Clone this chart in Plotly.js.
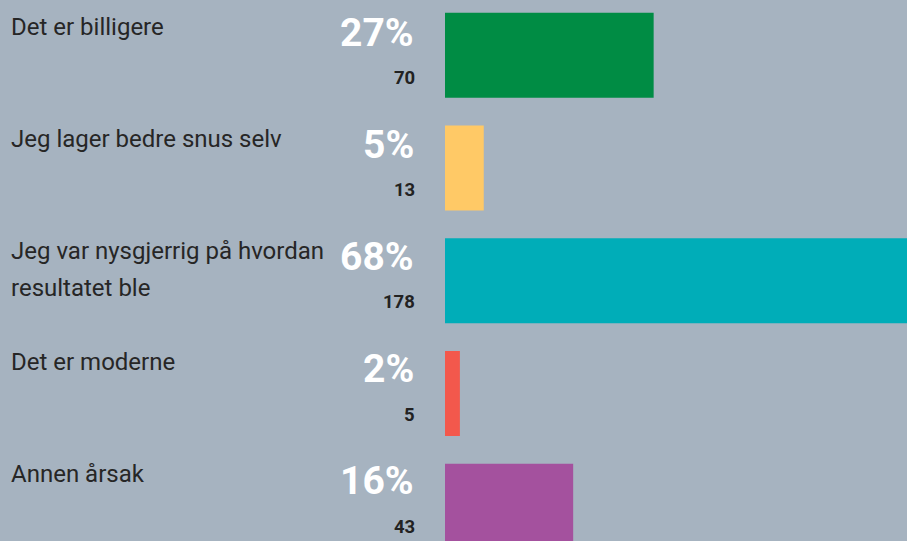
<!DOCTYPE html>
<html>
<head>
<meta charset="utf-8">
<script src="https://cdn.plot.ly/plotly-3.0.1.min.js"></script>
<style>
html,body{margin:0;padding:0;background:#a6b3c0;}
#chart{width:907px;height:541px;}
</style>
</head>
<body>
<div id="chart"></div>
<script>
// Data
var categories = [
  ["Det er billigere"],
  ["Jeg lager bedre snus selv"],
  ["Jeg var nysgjerrig på hvordan", "resultatet ble"],
  ["Det er moderne"],
  ["Annen årsak"]
];
var percents = [27, 5, 68, 2, 16];
var counts = [70, 13, 178, 5, 43];
var colors = ["#008c44", "#ffc966", "#00adb8", "#f3584c", "#a4519e"];

// Layout constants (pixels)
var W = 907, H = 541;
var barLeft = 445;
function px(x){ return x / W; }
function py(y){ return 1 - y / H; }

var idx = counts.map(function(_, i){ return i; });

var trace = {
  type: "bar",
  orientation: "h",
  x: counts,
  y: idx,
  width: 0.754,
  marker: {color: colors, line: {width: 0}},
  hoverinfo: "none"
};

var annotations = [];
categories.forEach(function(lines, i){
  lines.forEach(function(line, j){
    annotations.push({
      xref: "paper", yref: "paper",
      x: px(9), y: py(27.5 + 111.6 * i + 37 * j),
      xanchor: "left", yanchor: "middle",
      text: line, showarrow: false,
      font: {family: "Roboto", size: 24, color: "#262626"}
    });
  });
  annotations.push({
    xref: "paper", yref: "paper",
    x: px(416), y: py(33 + 112.1 * i),
    xanchor: "right", yanchor: "middle",
    text: "<b>" + percents[i] + "%</b>", showarrow: false,
    font: {family: "Roboto", size: 39, color: "#ffffff"}
  });
  annotations.push({
    xref: "paper", yref: "paper",
    x: px(417), y: py(78 + 112.2 * i),
    xanchor: "right", yanchor: "middle",
    text: "<b>" + counts[i] + "</b>", showarrow: false,
    font: {family: "Roboto", size: 18.5, color: "#222222"}
  });
});

var layout = {
  width: W, height: H,
  margin: {l: 0, r: 0, t: 0, b: 0, pad: 0},
  paper_bgcolor: "#a6b3c0",
  plot_bgcolor: "#a6b3c0",
  showlegend: false,
  xaxis: {
    domain: [barLeft / W, 1],
    range: [0, 155],
    showgrid: false, zeroline: false, showticklabels: false, showline: false, ticks: ""
  },
  yaxis: {
    range: [4.3078, -0.4905],
    showgrid: false, zeroline: false, showticklabels: false, showline: false, ticks: ""
  },
  annotations: annotations
};

Plotly.newPlot("chart", [trace], layout, {displayModeBar: false, staticPlot: true});
</script>
</body>
</html>
